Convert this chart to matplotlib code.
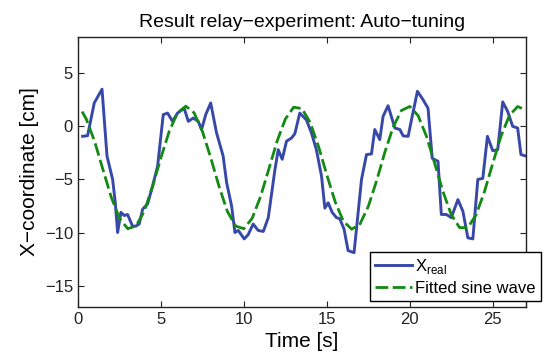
import numpy as np
import matplotlib
matplotlib.use("Agg")
import matplotlib.pyplot as plt

plt.rcParams['font.family'] = ['Liberation Sans', 'DejaVu Sans']
plt.rcParams['mathtext.fontset'] = 'custom'
plt.rcParams['mathtext.rm'] = 'Liberation Sans'

# measured position X_real [cm] over time [s]
t_real = [0.28, 0.58, 0.98, 1.45, 1.75, 2.09, 2.25, 2.39, 2.59, 2.79, 2.99, 3.29,
          3.49, 3.69, 3.9, 4.2, 4.5, 4.8, 5.14, 5.4, 5.7, 6.0, 6.4, 6.65, 6.95,
          7.25, 7.45, 7.7, 8.0, 8.35, 8.75, 8.96, 9.26, 9.46, 9.66, 10.02, 10.26,
          10.56, 10.86, 11.17, 11.47, 11.87, 12.07, 12.31, 12.57, 12.87, 13.07,
          13.37, 13.77, 14.07, 14.37, 14.68, 14.88, 15.08, 15.32, 15.58, 15.78,
          16.04, 16.28, 16.64, 17.09, 17.39, 17.69, 17.89, 18.19, 18.39, 18.69,
          19.1, 19.4, 19.6, 19.9, 20.1, 20.46, 20.8, 21.1, 21.35, 21.7, 21.9,
          22.2, 22.5, 22.9, 23.2, 23.5, 23.8, 24.1, 24.4, 24.68, 25.0, 25.3,
          25.6, 25.9, 26.2, 26.5, 26.7, 27.0]
x_real = [-0.94, -0.88, 2.19, 3.5, -2.8, -5.0, -7.2, -10.0, -8.1, -8.4, -8.3, -9.4,
          -9.4, -9.2, -7.8, -7.3, -5.6, -3.75, 1.1, 1.25, 0.47, 1.25, 1.7, 0.47, 0.78,
          0.47, -0.3, 1.1, 2.2, -0.6, -2.8, -5.3, -7.5, -10.0, -9.8, -10.6, -10.2,
          -9.2, -9.8, -9.9, -8.6, -4.1, -2.2, -3.1, -1.4, -1.1, -0.7,
          1.25, 0.6, -0.6, -2.2, -4.7, -7.7, -7.2, -8.1, -8.6, -8.7,
          -9.7, -11.7, -11.9, -5.0, -2.66, -2.6, -0.3, -1.25, 0.94, 1.94,
          -0.16, -0.3, -0.9, -0.94, 0.6, 3.3, 2.5, 1.7, -3.0, -3.3, -8.3,
          -8.3, -8.6, -6.9, -8.0, -10.5, -10.6, -5.0, -4.9, -0.94, -2.3, -2.2,
          2.3, 1.4, 0.0, -0.16, -2.66, -2.8]

# fitted sine wave, read every 0.5 s
t_fit = [0.25] + list(np.arange(0.5, 27.01, 0.5))
x_fit = [1.39, 0.69, -1.40, -4.04, -6.64, -8.66, -9.64, -9.39, -7.99, -5.64, -2.95,
         -0.47, 1.27, 1.90, 1.27, -0.47, -2.95, -5.64, -7.99, -9.39, -9.64, -8.66,
         -6.64, -4.04, -1.40, 0.69, 1.80, 1.67, 0.34, -1.90, -4.58, -7.10, -8.95,
         -9.69, -9.19, -7.54, -5.12, -2.42, -0.05, 1.50, 1.87, 1.01, -0.92, -3.49,
         -6.15, -8.32, -9.54, -9.54, -8.32, -6.15, -3.49, -0.92, 1.01, 1.87, 1.50]

fig = plt.figure(figsize=(5.49, 3.64), dpi=100)
ax = fig.add_axes([0.142, 0.157, 0.816, 0.741])

ax.plot(t_real, x_real, color='#3848a8', lw=2.1, label=r'X$_{\mathrm{real}}$')
ax.plot(t_fit, x_fit, color='#138a13', lw=2.0, dashes=(4.6, 1.6),
        label='Fitted sine wave')

ax.set_xlim(0, 27)
ax.set_ylim(-17, 8.4)
ax.set_xticks([0, 5, 10, 15, 20, 25])
ax.set_yticks([-15, -10, -5, 0, 5])
ax.tick_params(direction='in', top=True, right=True, length=4, width=0.8,
               labelsize=12, colors='#222222')
for sp in ax.spines.values():
    sp.set_linewidth(1.0)
    sp.set_color('#222222')

ax.set_xlabel('Time [s]', fontsize=15)
ax.set_ylabel('X\u2212coordinate [cm]', fontsize=15)
ax.set_title('Result relay\u2212experiment: Auto\u2212tuning', fontsize=14, pad=7)

leg = ax.legend(loc='lower left', bbox_to_anchor=(0.674, 0.173),
                bbox_transform=fig.transFigure, fontsize=12, frameon=True,
                fancybox=False, framealpha=1, edgecolor='black',
                handlelength=2.2, handletextpad=0.2, borderpad=0.3,
                labelspacing=0.3, borderaxespad=0)
leg.get_frame().set_linewidth(1.0)

fig.savefig('out.png', dpi=100)
